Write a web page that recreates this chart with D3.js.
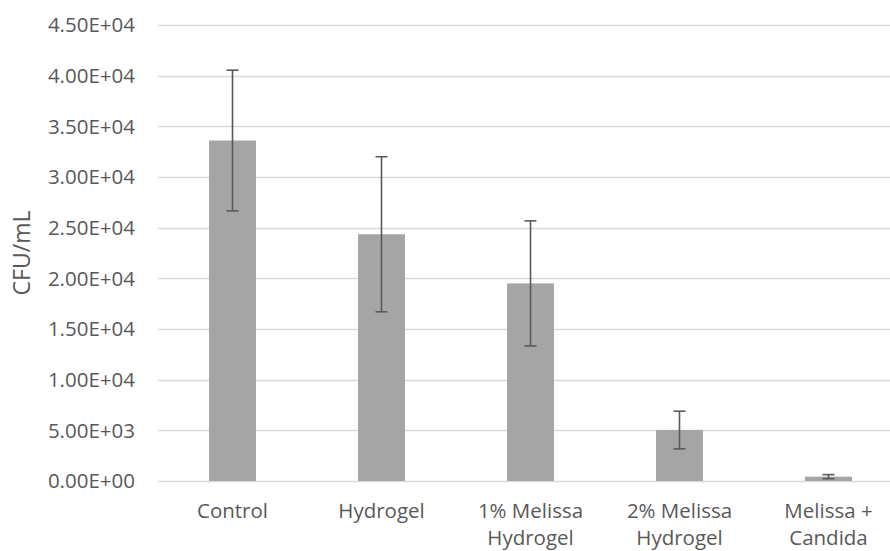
<!DOCTYPE html>
<html><head><meta charset="utf-8">
<script src="https://cdn.jsdelivr.net/npm/d3@7"></script>
<style>body{margin:0;background:#fff}svg{display:block}</style>
</head><body>
<script>
const categories = [["Control"], ["Hydrogel"], ["1% Melissa", "Hydrogel"], ["2% Melissa", "Hydrogel"], ["Melissa +", "Candida"]];
const values = [33600, 24350, 19500, 5030, 430];
const errors = [6940, 7650, 6170, 1860, 200];
const yTicks = [0, 5000, 10000, 15000, 20000, 25000, 30000, 35000, 40000, 45000];

const W = 890, H = 551;
const m = {left: 158, right: 903, top: 25, bottom: 481};
const svg = d3.select("body").append("svg").attr("width", W).attr("height", H);
const font = "'Open Sans', sans-serif";
const fs = 20.5;

const x = d3.scaleBand().domain(d3.range(categories.length)).range([m.left, m.right])
  .paddingInner(0.685).paddingOuter(0.3425);
const y = d3.scaleLinear().domain([0, 45000]).range([m.bottom, m.top]);

const fmt = v => v.toExponential(2).replace(/e([+-])(\d)$/, "E$10$2").replace(/e([+-])(\d\d)$/, "E$1$2");

svg.append("g").selectAll("line").data(yTicks).join("line")
  .attr("x1", m.left).attr("x2", m.right)
  .attr("y1", d => Math.round(y(d)) + 0.5).attr("y2", d => Math.round(y(d)) + 0.5)
  .attr("stroke", "#d9d9d9").attr("stroke-width", 1.3);

svg.append("g").selectAll("text").data(yTicks).join("text")
  .attr("x", 135).attr("y", d => y(d)).attr("dy", "0.36em")
  .attr("text-anchor", "end").attr("font-family", font).attr("font-size", fs)
  .attr("fill", "#595959").text(d => fmt(d));

svg.append("g").selectAll("rect").data(values).join("rect")
  .attr("x", (d, i) => x(i)).attr("width", x.bandwidth())
  .attr("y", d => y(d)).attr("height", d => y(0) - y(d))
  .attr("fill", "#a5a5a5");

const eg = svg.append("g").attr("stroke", "#595959").attr("stroke-width", 1.6);
values.forEach((v, i) => {
  const cx = x(i) + x.bandwidth() / 2;
  const y1 = y(v + errors[i]), y2 = y(Math.max(0, v - errors[i]));
  eg.append("line").attr("x1", cx).attr("x2", cx).attr("y1", y1).attr("y2", y2);
  eg.append("line").attr("x1", cx - 6).attr("x2", cx + 6).attr("y1", y1).attr("y2", y1);
  eg.append("line").attr("x1", cx - 6).attr("x2", cx + 6).attr("y1", y2).attr("y2", y2);
});

const xl = svg.append("g");
categories.forEach((lines, i) => {
  const cx = x(i) + x.bandwidth() / 2;
  const t = xl.append("text").attr("text-anchor", "middle").attr("font-family", font)
    .attr("font-size", fs).attr("fill", "#595959");
  lines.forEach((s, j) => t.append("tspan").attr("x", cx).attr("y", 518 + j * 27).text(s));
});

svg.append("text").attr("transform", "translate(30,253) rotate(-90)")
  .attr("text-anchor", "middle").attr("font-family", font).attr("font-size", 23)
  .attr("fill", "#595959").text("CFU/mL");
</script>
</body></html>
